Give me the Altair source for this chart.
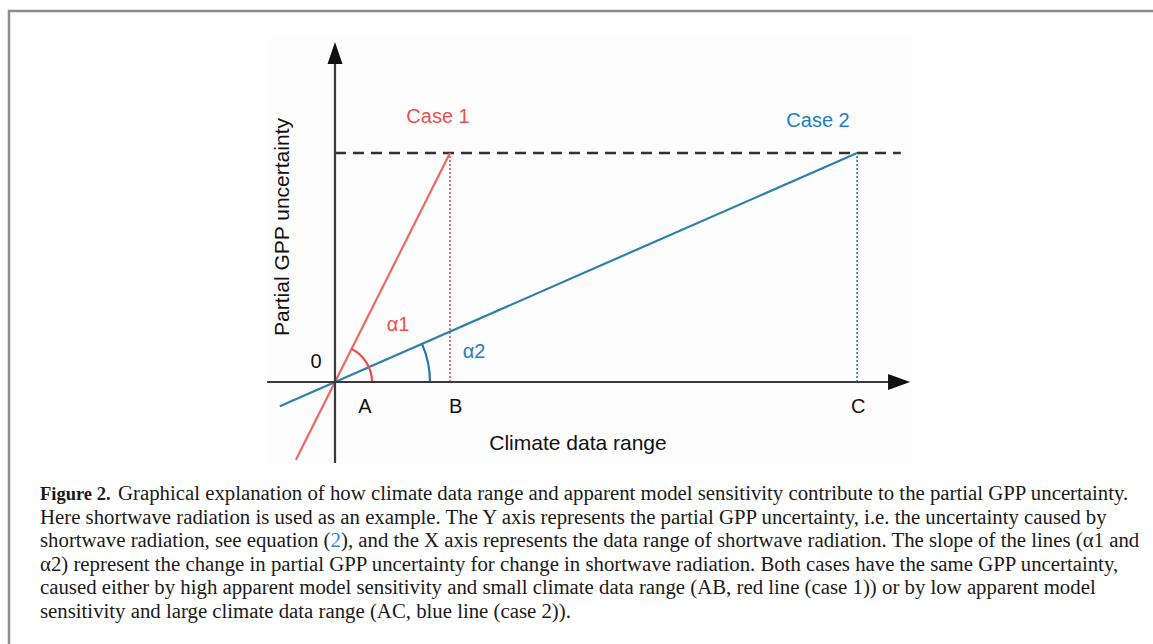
import math
import altair as alt
import pandas as pd

# ---------------- data (diagram units: B = 1, uncertainty level U = 1) ----------------
U = 1.0                    # common partial GPP uncertainty level (dashed line)
B = 1.0                    # climate data range, case 1
C = 4.54                   # climate data range, case 2

red_x = [-0.34, B]
red_y = [-0.34, U]
blue_x = [-0.48, C]
blue_y = [-0.48 * U / C, U]

xaxis_x = [-0.59, 4.95]
yaxis_y = [-0.354, 1.44]
dash_x = [0.0, 4.92]

arrow_x = [4.905, 0.0]
arrow_y = [0.0, 1.437]
arrow_shape = ["M1,0L-1,0.72L-1,-0.72Z", "M0,-1L0.68,1L-0.68,1Z"]

lab_text = ["0", "A", "B", "C"]
lab_x = [-0.165, 0.26, 1.05, 4.55]
lab_y = [0.087, -0.109, -0.109, -0.109]

case_text = ["Case 1", "Case 2", "α1", "α2"]
case_x = [0.896, 4.2, 0.548, 1.209]
case_y = [1.157, 1.14, 0.249, 0.131]
case_col = ["#f04f4f", "#1f7dc1", "#f04f4f", "#1f7dc1"]

arc_radius = [37, 95]      # px
arc_col = ["#e8504f", "#2b74a8"]

caption_bold = "Figure 2."
caption_lines = [
    "Graphical explanation of how climate data range and apparent model sensitivity contribute to the partial GPP uncertainty.",
    "Here shortwave radiation is used as an example. The Y axis represents the partial GPP uncertainty, i.e. the uncertainty caused by",
    "shortwave radiation, see equation (2), and the X axis represents the data range of shortwave radiation. The slope of the lines (α1 and",
    "α2) represent the change in partial GPP uncertainty for change in shortwave radiation. Both cases have the same GPP uncertainty,",
    "caused either by high apparent model sensitivity and small climate data range (AB, red line (case 1)) or by low apparent model",
    "sensitivity and large climate data range (AC, blue line (case 2)).",
]
line3_parts = ["shortwave radiation, see equation (", "2",
               "), and the X axis represents the data range of shortwave radiation. The slope of the lines (α1 and"]

# ---------------- scales ----------------
W, H = 1153, 644
KX, KY = 115.0, 229.0      # px per unit
OX, OY = 335.0, 382.0      # origin in px
xdom = [-OX / KX, (W - OX) / KX]
ydom = [-(H - OY) / KY, OY / KY]
xs = alt.Scale(domain=xdom, nice=False, zero=False)
ys = alt.Scale(domain=ydom, nice=False, zero=False)

def X(f="x"):
    return alt.X(f"{f}:Q", scale=xs, axis=None)

def Y(f="y"):
    return alt.Y(f"{f}:Q", scale=ys, axis=None)

one = pd.DataFrame({"d": [0]})
FONT = "Liberation Sans"

frame = alt.Chart(one).mark_rect(fillOpacity=0, stroke="#8c8c8c", strokeWidth=2.5).encode(
    x=alt.value(9), x2=alt.value(1400), y=alt.value(11), y2=alt.value(900))
bgbox = alt.Chart(one).mark_rect(fill="#fdfdfd").encode(
    x=alt.value(268), x2=alt.value(912), y=alt.value(37), y2=alt.value(466))

xaxis = alt.Chart(pd.DataFrame({"x": [xaxis_x[0]], "x2": [xaxis_x[1]], "y": [0.0]})).mark_rule(
    color="#3a3a3a", strokeWidth=2.2).encode(x=X(), x2="x2:Q", y=Y())
yaxis = alt.Chart(pd.DataFrame({"y": [yaxis_y[0]], "y2": [yaxis_y[1]], "x": [0.0]})).mark_rule(
    color="#3a3a3a", strokeWidth=2.2).encode(x=X(), y=Y(), y2="y2:Q")

arrows = alt.Chart(pd.DataFrame({"x": arrow_x, "y": arrow_y, "s": arrow_shape})).mark_point(
    filled=True, color="#111111", opacity=1, size=121 * 4).encode(
    x=X(), y=Y(), shape=alt.Shape("s:N", scale=None, legend=None))

dash = alt.Chart(pd.DataFrame({"x": [dash_x[0]], "x2": [dash_x[1]], "y": [U]})).mark_rule(
    color="#333333", strokeWidth=2.4, strokeDash=[11, 7]).encode(x=X(), x2="x2:Q", y=Y())

vdots = alt.Chart(pd.DataFrame({"x": [B, C], "y": [0.0, 0.0], "y2": [U, U],
                                "c": ["#e8504f", "#2b74a8"]})).mark_rule(
    strokeWidth=1.6, strokeDash=[2, 2]).encode(
    x=X(), y=Y(), y2="y2:Q", color=alt.Color("c:N", scale=None, legend=None))

red = alt.Chart(pd.DataFrame({"x": red_x, "y": red_y})).mark_line(
    color="#ee6a60", strokeWidth=2.2).encode(x=X(), y=Y())
blue = alt.Chart(pd.DataFrame({"x": blue_x, "y": blue_y})).mark_line(
    color="#2f7fae", strokeWidth=2.2).encode(x=X(), y=Y())

# arc angles (vega theta: 0 at 12 o'clock, clockwise)
th_red = math.pi / 2 - math.atan2(U * KY, B * KX)
th_blue = math.pi / 2 - math.atan2(U * KY, C * KX)
arcs = []
for r, col, th in zip(arc_radius, arc_col, [th_red, th_blue]):
    arcs.append(alt.Chart(pd.DataFrame({"x": [0.0], "y": [0.0]})).mark_arc(
        radius=r + 1.1, radius2=r - 1.1, theta=th, theta2=math.pi / 2, color=col).encode(
        x=X(), y=Y()))

labels = alt.Chart(pd.DataFrame({"x": lab_x, "y": lab_y, "t": lab_text})).mark_text(
    font=FONT, fontSize=20, color="#111111", baseline="middle", align="center").encode(
    x=X(), y=Y(), text="t:N")

cases = alt.Chart(pd.DataFrame({"x": case_x, "y": case_y, "t": case_text, "c": case_col})).mark_text(
    font=FONT, fontSize=20, baseline="middle", align="center").encode(
    x=X(), y=Y(), text="t:N", color=alt.Color("c:N", scale=None, legend=None))

xtitle = alt.Chart(pd.DataFrame({"x": [2.113], "y": [-0.271], "t": ["Climate data range"]})).mark_text(
    font=FONT, fontSize=21, color="#111111", baseline="middle", align="center").encode(
    x=X(), y=Y(), text="t:N")
ytitle = alt.Chart(pd.DataFrame({"x": [-0.452], "y": [0.677], "t": ["Partial GPP uncertainty"]})).mark_text(
    font=FONT, fontSize=21, color="#111111", baseline="middle", align="center", angle=270).encode(
    x=X(), y=Y(), text="t:N")

# ---------------- caption ----------------
SERIF = "Liberation Serif"
CAP_SIZE = 20.8
cap_y0, cap_dy = 494, 23.6
TXT = "#1a1a1a"

def cap_text(x, y, txt, color=TXT, weight="normal", size=CAP_SIZE):
    return alt.Chart(one).mark_text(
        font=SERIF, fontSize=size, fontWeight=weight, align="left", baseline="middle",
        color=color).encode(x=alt.value(x), y=alt.value(y), text=alt.value(txt))

cap_layers = [cap_text(40, cap_y0, caption_bold, weight="bold", size=18.5),
              cap_text(118, cap_y0, caption_lines[0])]
for i, line in enumerate(caption_lines[1:], start=1):
    y = cap_y0 + i * cap_dy
    if i == 2:
        x2 = 40 + 13.969 * CAP_SIZE
        cap_layers.append(cap_text(40, y, line3_parts[0]))
        cap_layers.append(cap_text(x2, y, line3_parts[1], color="#2a8ad0"))
        cap_layers.append(cap_text(x2 + 0.5 * CAP_SIZE, y, line3_parts[2]))
    else:
        cap_layers.append(cap_text(40, y, line))

chart = alt.layer(
    frame, bgbox, dash, vdots, red, blue, *arcs, xaxis, yaxis, arrows,
    labels, cases, xtitle, ytitle, *cap_layers
).properties(
    width=W, height=H, padding=0, autosize=alt.AutoSizeParams(type="none"),
    background="white"
).configure_view(stroke=None)

chart.save("out.html", embed_options={"renderer": "svg", "actions": False})
